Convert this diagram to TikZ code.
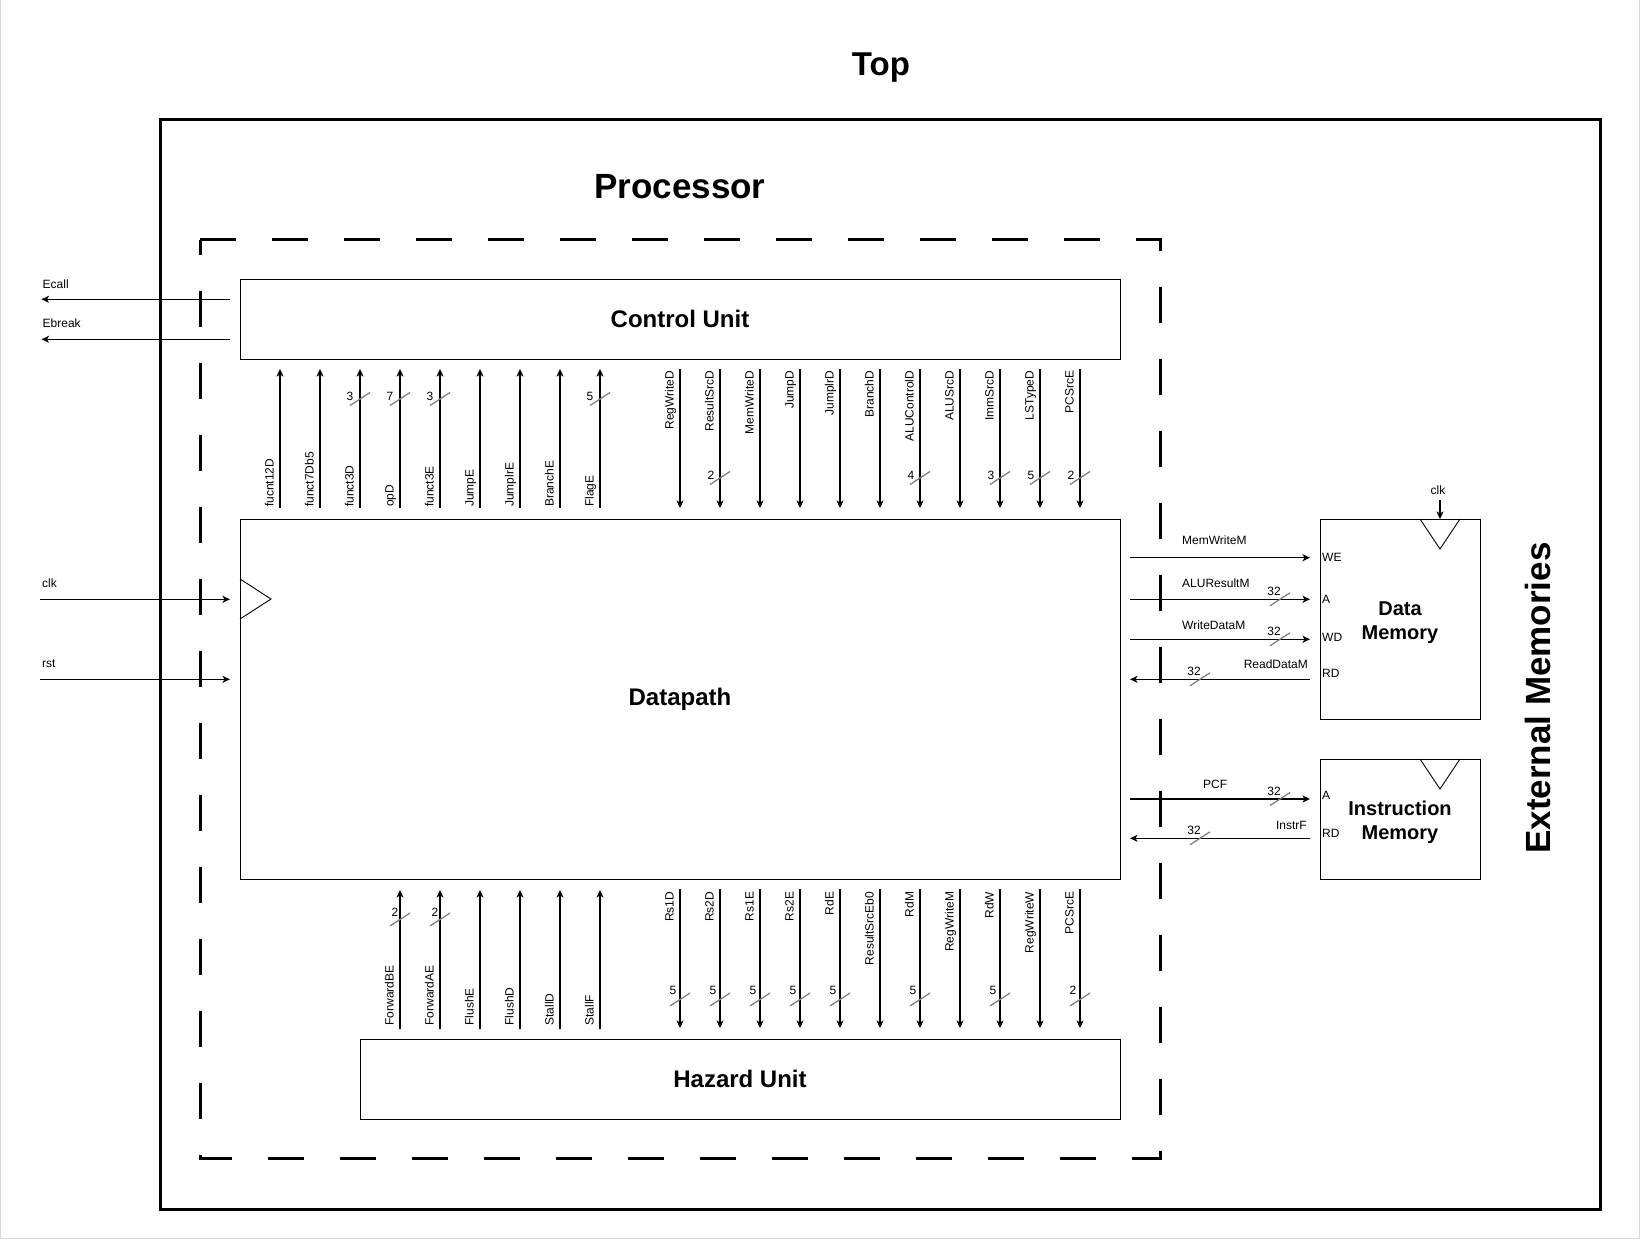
\documentclass[tikz,border=0pt]{standalone}
\usepackage{fontspec}
\setmainfont{Liberation Sans}
\usetikzlibrary{arrows.meta}
\newcommand\lblfont{\fontsize{12}{14}\selectfont}
\newcommand\boxfont{\fontsize{24}{29}\selectfont\bfseries}
\newcommand\memfont{\fontsize{20}{24}\selectfont\bfseries}
\newcommand\ttlfont{\fontsize{35}{42}\selectfont\bfseries}
\newcommand\topfont{\fontsize{33}{40}\selectfont\bfseries}
\begin{document}
\begin{tikzpicture}[x=1pt,y=-1pt,
  box/.style={draw, line width=1pt, outer sep=0pt, inner sep=0pt, font=\boxfont},
  mem/.style={draw, line width=1pt, outer sep=0pt, inner sep=0pt},
  memtxt/.style={font=\memfont, align=center, inner sep=0pt},
  sig/.style={line width=1.3pt, -{Stealth[length=7.5pt,width=7pt,inset=2pt]}},
  slashln/.style={line width=1.3pt, draw=gray},
  lbl/.style={font=\lblfont, inner sep=0pt},
  rl/.style={lbl, rotate=90},
  clktri/.style={line width=0.9pt, line join=miter},
]
\useasboundingbox (0,0) rectangle (1641,1240);
% page border
\draw[gray!30, line width=1.3pt] (0.7,0) -- (0.7,1238.4) -- (1639.4,1238.4) -- (1639.4,0);
% outer Top box
\draw[line width=3.4pt, line join=miter] (160.3,119.3) rectangle (1600.7,1209.3);
% Processor dashed box
\draw[line width=3pt, dash pattern=on 36pt off 36pt, line join=miter]
  (200,239.7) -- (1160.4,239.7) -- (1160.4,1158.8) -- (200,1158.8) -- cycle;
% titles
\node[font=\topfont, anchor=base, inner sep=0pt] (ttop) at (881,75) {Top};
\node[font=\ttlfont, anchor=base, inner sep=0pt] (tproc) at (680,198) {Processor};
\node[font=\ttlfont, anchor=base, rotate=90, inner sep=0pt] (text) at (1550,698) {External Memories};
% boxes
\node[box, minimum width=880pt, minimum height=80pt] (cu) at (680,319) {Control Unit};
\node[box, minimum width=880pt, minimum height=360pt] (dp) at (680,699) {Datapath};
\node[box, minimum width=760pt, minimum height=80pt] (hz) at (740,1079) {Hazard Unit};
\node[mem, minimum width=160pt, minimum height=200pt] (dm) at (1400,619) {};
\node[mem, minimum width=160pt, minimum height=120pt] (im) at (1400,819) {};
\node[memtxt] (dmt) at ([yshift=-4pt]dm.center) {Data\\Memory};
\node[memtxt] (imt) at ([yshift=-3.5pt]im.center) {Instruction\\Memory};
% clock triangles
\draw[clktri] ([yshift=-60pt]dp.north west) -- ([xshift=31pt,yshift=-80pt]dp.north west) -- ([yshift=-100pt]dp.north west);
\draw[clktri] ([xshift=20pt]dm.north) -- ([xshift=40pt,yshift=-30pt]dm.north) -- ([xshift=60pt]dm.north);
\draw[clktri] ([xshift=20pt]im.north) -- ([xshift=40pt,yshift=-30pt]im.north) -- ([xshift=60pt]im.north);
\draw[sig] ([xshift=40pt,yshift=19pt]dm.north) -- ([xshift=40pt]dm.north);
\node[lbl] (dmclk) at ([xshift=38pt,yshift=29pt]dm.north) {clk};
% datapath -> control unit
\foreach \x/\nm in {280/fucnt12D,320/funct7Db5,360/funct3D,400/opD,440/funct3E,480/JumpE,520/JumplrE,560/BranchE,600/FlagE}{
  \draw[sig] ([yshift=11pt]dp.north -| \x,0) -- ([yshift=-10pt]cu.south -| \x,0);
  \node[rl, anchor=base west] at ([yshift=12pt]dp.north -| \x-6.5,0) {\nm};
}
\foreach \x/\n in {360/3,400/7,440/3,600/5}{
  \draw[slashln] (\x-10,405.5) -- (\x+10,392.5);
  \node[lbl] at (\x-10,396) {\n};
}
% control unit -> datapath
\foreach \x/\nm in {680/RegWriteD,720/ResultSrcD,760/MemWriteD,800/JumpD,840/JumplrD,880/BranchD,920/ALUControlD,960/ALUSrcD,1000/ImmSrcD,1040/LSTypeD,1080/PCSrcE}{
  \draw[sig] ([yshift=-10pt]cu.south -| \x,0) -- ([yshift=11pt]dp.north -| \x,0);
  \node[rl, anchor=base east] at ([yshift=-11.7pt]cu.south -| \x-6.5,0) {\nm};
}
\foreach \x/\n in {720/2,920/4,1000/3,1040/5,1080/2}{
  \draw[slashln] (\x-10,484.5) -- (\x+10,471.5);
  \node[lbl] at (\x-9,475) {\n};
}
% hazard unit -> datapath
\foreach \x/\nm in {400/ForwardBE,440/ForwardAE,480/FlushE,520/FlushD,560/StallD,600/StallF}{
  \draw[sig] ([yshift=10pt]hz.north -| \x,0) -- ([yshift=-11pt]dp.south -| \x,0);
  \node[rl, anchor=base west] at ([yshift=13.3pt]hz.north -| \x-6.5,0) {\nm};
}
\foreach \x/\n in {400/2,440/2}{
  \draw[slashln] (\x-10,926) -- (\x+10,913);
  \node[lbl] at (\x-5,912) {\n};
}
% datapath -> hazard unit
\foreach \x/\nm in {680/Rs1D,720/Rs2D,760/Rs1E,800/Rs2E,840/RdE,880/ResultSrcEb0,920/RdM,960/RegWriteM,1000/RdW,1040/RegWriteW,1080/PCSrcE}{
  \draw[sig] ([yshift=-10pt]dp.south -| \x,0) -- ([yshift=11pt]hz.north -| \x,0);
  \node[rl, anchor=base east] at ([yshift=-12.7pt]dp.south -| \x-6.5,0) {\nm};
}
\foreach \x/\n in {680/5,720/5,760/5,800/5,840/5,920/5,1000/5,1080/2}{
  \draw[slashln] (\x-10,1006) -- (\x+10,993);
  \node[lbl] at (\x-7,990.5) {\n};
}
% memory ports
\coordinate (pwe) at (dm.west |- 0,557.7);
\coordinate (pa) at (dm.west |- 0,599.3);
\coordinate (pwd) at (dm.west |- 0,639.3);
\coordinate (prd) at (dm.west |- 0,679.3);
\coordinate (pia) at (im.west |- 0,799);
\coordinate (pird) at (im.west |- 0,838.3);
\draw[sig] ([xshift=10pt]dp.east |- pwe) -- ([xshift=-10pt]pwe);
\draw[sig] ([xshift=10pt]dp.east |- pa) -- ([xshift=-10pt]pa);
\draw[sig] ([xshift=10pt]dp.east |- pwd) -- ([xshift=-10pt]pwd);
\draw[sig] ([xshift=-10pt]prd) -- ([xshift=10pt]dp.east |- prd);
\draw[sig] ([xshift=10pt]dp.east |- pia) -- ([xshift=-10pt]pia);
\draw[sig] ([xshift=-10pt]pird) -- ([xshift=10pt]dp.east |- pird);
\node[lbl, anchor=west] at (1322,557.5) {WE};
\node[lbl, anchor=west] at (1322,599.5) {A};
\node[lbl, anchor=west] at (1322,637) {WD};
\node[lbl, anchor=west] at (1322,673.3) {RD};
\node[lbl, anchor=west] at (1322,795) {A};
\node[lbl, anchor=west] at (1322,833.7) {RD};
\node[lbl, anchor=west] at (1182,540.3) {MemWriteM};
\node[lbl, anchor=west] at (1182,583) {ALUResultM};
\node[lbl, anchor=west] at (1182,625.5) {WriteDataM};
\node[lbl, anchor=east] at (1308,664.2) {ReadDataM};
\node[lbl, anchor=west] at (1203,784) {PCF};
\node[lbl, anchor=east] at (1307,825) {InstrF};
\foreach \xs/\ys in {1280/599.3,1280/639.3,1200/679.3,1280/799,1200/838.3}{
  \draw[slashln] (\xs-10,\ys+6.5) -- (\xs+10,\ys-6.5);
  \node[lbl] at (\xs-6,\ys-8) {32};
}
% left side signals
\coordinate (ecallo) at (41.5,299.3);
\coordinate (ebreako) at (41.5,339.3);
\coordinate (clki) at (40,599.3);
\coordinate (rsti) at (40,679.3);
\draw[sig] ([xshift=-10pt]cu.west |- ecallo) -- (ecallo);
\draw[sig] ([xshift=-10pt]cu.west |- ebreako) -- (ebreako);
\draw[sig] (clki) -- ([xshift=-10pt]dp.west |- clki);
\draw[sig] (rsti) -- ([xshift=-10pt]dp.west |- rsti);
\node[lbl, anchor=west] at (42.5,284) {Ecall};
\node[lbl, anchor=west] at (42.5,323.5) {Ebreak};
\node[lbl, anchor=west] at (42,583.5) {clk};
\node[lbl, anchor=west] at (42,663.5) {rst};
\end{tikzpicture}
\end{document}
